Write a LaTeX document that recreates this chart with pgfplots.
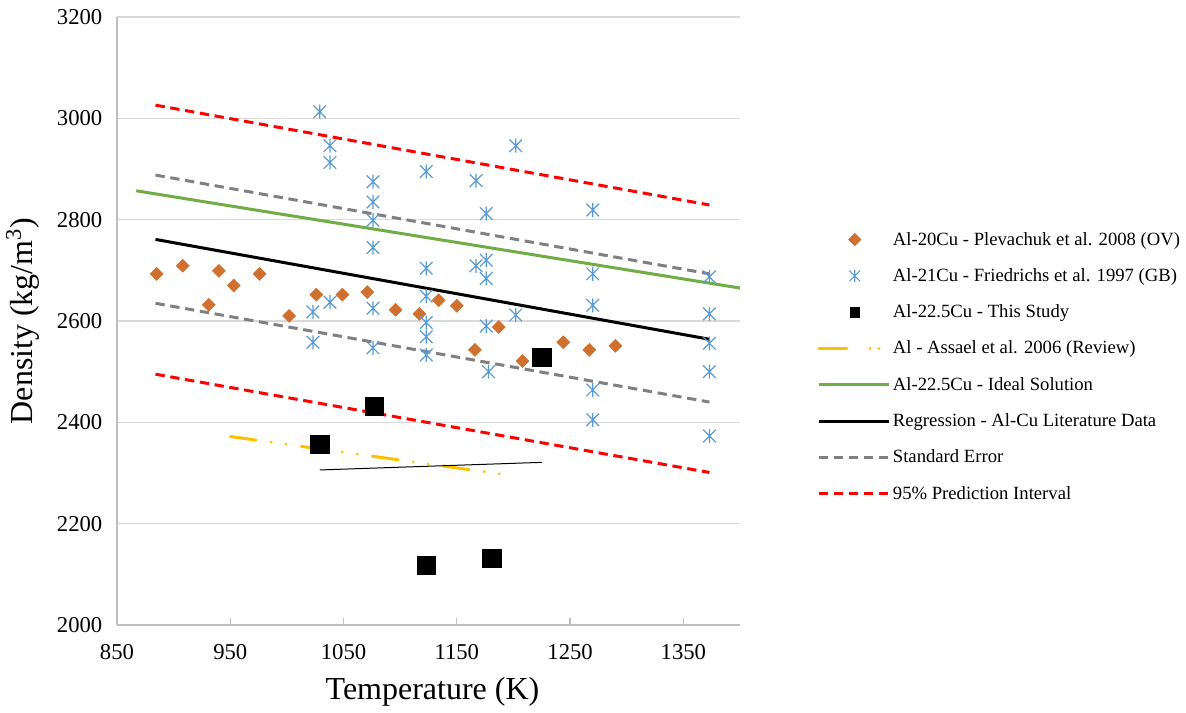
\documentclass[border=0pt]{standalone}
\usepackage{pgfplots}
\pgfplotsset{compat=1.18}
\usepackage{fontspec}
\setmainfont{Liberation Serif}
\definecolor{orng}{HTML}{D0702E}
\definecolor{blu}{HTML}{5B9BD5}
\definecolor{grn}{HTML}{70AD47}
\definecolor{ylw}{HTML}{FFC000}
\definecolor{gry}{HTML}{808080}
\definecolor{gridc}{HTML}{D9D9D9}
\definecolor{axc}{HTML}{BFBFBF}
\pgfdeclareplotmark{exstar}{%
  \pgfpathmoveto{\pgfqpoint{0pt}{\pgfplotmarksize}}%
  \pgfpathlineto{\pgfqpoint{0pt}{-\pgfplotmarksize}}%
  \pgfpathmoveto{\pgfqpoint{-.9\pgfplotmarksize}{.9\pgfplotmarksize}}%
  \pgfpathlineto{\pgfqpoint{.9\pgfplotmarksize}{-.9\pgfplotmarksize}}%
  \pgfpathmoveto{\pgfqpoint{-.9\pgfplotmarksize}{-.9\pgfplotmarksize}}%
  \pgfpathlineto{\pgfqpoint{.9\pgfplotmarksize}{.9\pgfplotmarksize}}%
  \pgfusepathqstroke}
\pgfplotsset{
  lineleg/.style={legend image code/.code={\draw[##1] (0pt,0pt) -- (52.5pt,0pt);}},
  dotleg/.style={legend image code/.code={\draw[##1, dash pattern=on 21pt off 17.5pt on 0.01pt off 6.5pt on 0.01pt off 20pt] (0pt,0pt) -- (52.5pt,0pt);}},
  markleg/.style={legend image code/.code={\path[draw=none] (0pt,0pt) -- (52.5pt,0pt); \draw[mark repeat=2, mark phase=2, ##1, mark size=#1] plot coordinates {(0pt,0pt) (27pt,0pt) (54pt,0pt)};}},
}
\begin{document}
\begin{tikzpicture}
\path[use as bounding box] (-87.75pt,-66pt) rectangle (801.75pt,468.75pt);
\begin{axis}[
  at={(0,0)}, anchor=south west,
  scale only axis, width=467.25pt, height=456pt,
  xmin=850, xmax=1400, ymin=2000, ymax=3200,
  xtick={850,950,...,1350}, ytick={2000,2200,...,3200},
  scaled ticks=false,
  /pgf/number format/assume math mode=true,
  /pgf/number format/1000 sep={},
  axis lines*=left,
  axis line style={draw=axc, line width=1.1pt},
  ymajorgrids, grid style={draw=gridc, line width=1.1pt},
  tick align=inside, major tick length=5pt,
  xtick style={draw=axc, line width=1pt},
  ytick style={draw=none},
  tick label style={font=\fontsize{17}{17}\selectfont},
  xticklabel style={yshift=-10.8pt},
  yticklabel style={xshift=-7.5pt},
  xlabel={Temperature (K)},
  ylabel={Density (kg/m\textsuperscript{3})},
  label style={font=\fontsize{24}{24}\selectfont},
  xlabel style={at={(axis description cs:0.5,0)}, anchor=center, yshift=-50pt, xshift=3pt},
  ylabel style={at={(axis description cs:-0.1509,0.5)}, anchor=center},
  legend cell align=left,
  legend style={draw=none, fill=none, at={(1.1236,0.651)}, anchor=north west,
    font=\fontsize{14}{14}\selectfont, row sep=12pt, inner sep=0pt,
    /tikz/every even column/.append style={column sep=4.5pt}},
]
\addplot[only marks, mark=square*, mark size=3.45pt, color=orng, mark options={rotate=45, fill=orng, draw=orng},
  markleg=3.3pt]
  coordinates {(885,2693)(908,2709)(931,2632)(940,2699)(953,2670)(976,2693)(1002,2610)(1026,2652)(1049,2652)(1071,2657)(1096,2622)(1117,2614)(1134,2641)(1150,2630)(1166,2543)(1187,2588)(1208,2521)(1244,2558)(1267,2543)(1290,2551)};
\addlegendentry{Al-20Cu - Plevachuk et al. 2008 (OV)}
\addplot[only marks, mark=exstar, mark size=5.25pt, color=blu, mark options={line width=0.9pt},
  markleg=4.5pt]
  coordinates {(1029,3013)(1038,2946)(1038,2913)(1038,2637)(1023,2618)(1023,2558)
  (1076,2875)(1076,2835)(1076,2799)(1076,2745)(1076,2625)(1076,2547)
  (1123,2895)(1123,2704)(1123,2649)(1123,2597)(1123,2569)(1123,2533)
  (1167,2877)(1167,2709)(1176,2812)(1176,2720)(1176,2684)(1176,2590)(1178,2500)
  (1202,2946)(1202,2612)(1270,2819)(1270,2693)(1270,2631)(1270,2464)(1270,2405)
  (1373,2687)(1373,2614)(1373,2556)(1373,2500)(1373,2373)};
\addlegendentry{Al-21Cu - Friedrichs et al. 1997 (GB)}
\addplot[only marks, mark=square*, mark size=6.9pt, color=black, markleg=3.5pt]
  coordinates {(1029,2357)(1077,2432)(1123,2118)(1181,2132)(1225,2528)};
\addlegendentry{Al-22.5Cu - This Study}
\addplot[ylw, line width=2.25pt, line cap=round, dash pattern=on 19.5pt off 11.5pt on 0.01pt off 11.25pt on 0.01pt off 11.5pt, dotleg]
  coordinates {(950,2372) (1192,2297)};
\addlegendentry{Al - Assael et al. 2006 (Review)}
\addplot[grn, line width=2.25pt, lineleg]
  coordinates {(867,2857) (1400,2665)};
\addlegendentry{Al-22.5Cu - Ideal Solution}
\addplot[black, line width=2.25pt, lineleg]
  coordinates {(884,2761) (1373,2564)};
\addlegendentry{Regression - Al-Cu Literature Data}
\addplot[gry, line width=2.25pt, dash pattern=on 7pt off 4.25pt, lineleg]
  coordinates {(884,2888) (1373,2693)};
\addlegendentry{Standard Error}
\addplot[red, line width=2.25pt, dash pattern=on 7pt off 4.25pt, lineleg]
  coordinates {(884,3026) (1373,2829)};
\addlegendentry{95\% Prediction Interval}
\addplot[gry, line width=2.25pt, dash pattern=on 7pt off 4.25pt, forget plot]
  coordinates {(884,2635) (1373,2440)};
\addplot[red, line width=2.25pt, dash pattern=on 7pt off 4.25pt, forget plot]
  coordinates {(884,2495) (1373,2301)};
\addplot[black, line width=0.75pt, forget plot]
  coordinates {(1029,2306) (1225,2321)};
\end{axis}
\end{tikzpicture}
\end{document}
